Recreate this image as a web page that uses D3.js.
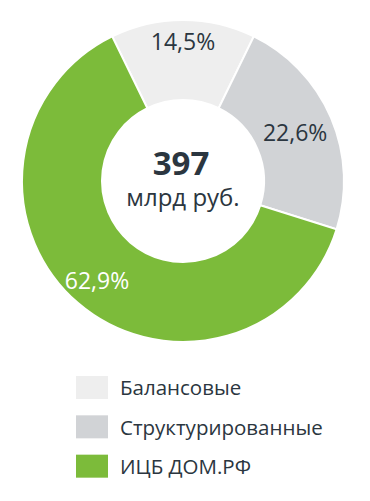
<!DOCTYPE html>
<html>
<head>
<meta charset="utf-8">
<script src="https://cdn.jsdelivr.net/npm/d3@7"></script>
<style>
    body { margin: 0; background: #fff; }
    svg { display: block; font-family: "Open Sans", sans-serif; }
</style>
</head>
<body>
<div id="chart"></div>
<script>
// Chart data
var categories = ["Балансовые", "Структурированные", "ИЦБ ДОМ.РФ"],
    shares = [14.5, 22.6, 62.9],
    colors = ["#eeeeee", "#d1d3d6", "#7cbb3a"],
    labelColors = ["#2b3640", "#2b3640", "#ffffff"],
    totalValue = "397",
    totalUnit = "млрд руб.";

// Layout
var width = 370,
    height = 501,
    center = { x: 183, y: 181 },
    outerRadius = 161,
    innerRadius = 81,
    labelRadii = [139, 122, 132];

var svg = d3.select("#chart")
    .append("svg")
    .attr("width", width)
    .attr("height", height);

var donut = svg.append("g")
    .attr("transform", "translate(" + center.x + "," + center.y + ")");

// Start so the first slice sits centred at the top
var startAngle = -Math.PI * shares[0] / 100;

var pie = d3.pie()
    .sort(null)
    .startAngle(startAngle)
    .endAngle(startAngle + 2 * Math.PI)
    .value(function(d) { return d; });

var arc = d3.arc()
    .innerRadius(innerRadius)
    .outerRadius(outerRadius);

var slices = pie(shares);

donut.selectAll("path")
    .data(slices)
    .enter()
    .append("path")
    .attr("d", arc)
    .attr("fill", function(d, i) { return colors[i]; })
    .attr("stroke", "#ffffff")
    .attr("stroke-width", 2);

// Percent labels
donut.selectAll(".slice-label")
    .data(slices)
    .enter()
    .append("text")
    .attr("class", "slice-label")
    .attr("transform", function(d, i) {
        var a = (d.startAngle + d.endAngle) / 2;
        var r = labelRadii[i];
        return "translate(" + (r * Math.sin(a)) + "," + (-r * Math.cos(a)) + ")";
    })
    .attr("text-anchor", "middle")
    .attr("dy", "0.36em")
    .attr("fill", function(d, i) { return labelColors[i]; })
    .style("font-size", "23px")
    .text(function(d) { return String(d.value).replace(".", ",") + "%"; });

// Center total, one text block with two lines
var total = donut.append("text")
    .attr("text-anchor", "middle")
    .attr("fill", "#2b3640");

total.append("tspan")
    .attr("x", -2)
    .attr("y", -6)
    .style("font-size", "33px")
    .style("font-weight", "bold")
    .text(totalValue);

total.append("tspan")
    .attr("x", 0)
    .attr("y", 25)
    .style("font-size", "24px")
    .text(totalUnit);

// Legend
var legend = svg.append("g")
    .attr("transform", "translate(76,376)");

var legendRow = d3.scaleBand()
    .domain(categories)
    .range([0, 118]);

var item = legend.selectAll(".legend-item")
    .data(categories)
    .enter()
    .append("g")
    .attr("class", "legend-item")
    .attr("transform", function(d) { return "translate(0," + legendRow(d) + ")"; });

item.append("rect")
    .attr("width", 32)
    .attr("height", 23)
    .attr("fill", function(d, i) { return colors[i]; });

item.append("text")
    .attr("x", 44)
    .attr("y", 12)
    .attr("dy", "0.35em")
    .attr("fill", "#2b3640")
    .style("font-size", "20.5px")
    .text(function(d) { return d; });
</script>
</body>
</html>
